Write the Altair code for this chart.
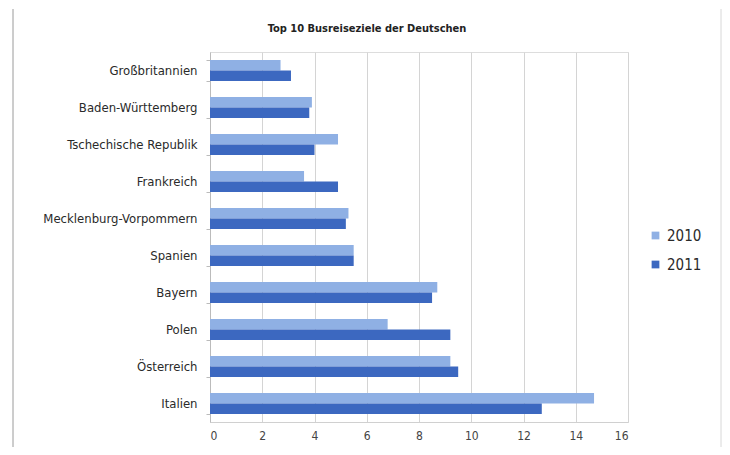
import altair as alt
import pandas as pd

categories = ["Großbritannien", "Baden-Württemberg", "Tschechische Republik", "Frankreich",
              "Mecklenburg-Vorpommern", "Spanien", "Bayern", "Polen", "Österreich", "Italien"]
values_2010 = [2.7, 3.9, 4.9, 3.6, 5.3, 5.5, 8.7, 6.8, 9.2, 14.7]
values_2011 = [3.1, 3.8, 4.0, 4.9, 5.2, 5.5, 8.5, 9.2, 9.5, 12.7]
years = ["2010", "2011"]
x_ticks = [0, 2, 4, 6, 8, 10, 12, 14, 16]

rows = []
for c, a, b in zip(categories, values_2010, values_2011):
    rows.append({"Ziel": c, "Jahr": years[0], "Wert": a})
    rows.append({"Ziel": c, "Jahr": years[1], "Wert": b})
df = pd.DataFrame(rows)

FONT = "DejaVu Sans Condensed, Liberation Sans Narrow, sans-serif"

bars = alt.Chart(df).mark_bar().encode(
    y=alt.Y("Ziel:N", sort=categories, title=None,
            scale=alt.Scale(paddingInner=0.43, paddingOuter=0.215),
            axis=alt.Axis(labelFont=FONT, labelFontSize=13, labelColor="#2a2a2a",
                          labelPadding=9, tickBand="extent", tickSize=4,
                          tickColor="#bbbbbb", domainColor="#bbbbbb", grid=False)),
    yOffset=alt.YOffset("Jahr:N", sort=years),
    x=alt.X("Wert:Q", title=None,
            scale=alt.Scale(domain=[0, 16], nice=False),
            axis=alt.Axis(values=x_ticks, labelFont=FONT, labelFontSize=12,
                          labelColor="#444444", ticks=False, labelPadding=8,
                          domainColor="#d0d0d0", gridColor="#d4d4d4")),
    color=alt.Color("Jahr:N", sort=years,
                    scale=alt.Scale(domain=years, range=["#8fb0e4", "#3c68c0"]),
                    legend=alt.Legend(title=None, orient="none", legendX=438, legendY=176,
                                      symbolType="square", symbolSize=60,
                                      symbolStrokeWidth=0,
                                      labelFont=FONT, labelFontSize=15,
                                      labelColor="#2a2a2a", rowPadding=13)),
)

frame_df = pd.DataFrame({"f": [0]})
left_rule = alt.Chart(frame_df).mark_rule(color="#9a9a9a", strokeWidth=1).encode(
    x=alt.value(-197), y=alt.value(-43), y2=alt.value(395))
right_rule = alt.Chart(frame_df).mark_rule(color="#d8d8d8", strokeWidth=1).encode(
    x=alt.value(511), y=alt.value(-43), y2=alt.value(395))

chart = alt.layer(bars, left_rule, right_rule).properties(
    width=418, height=370,
    padding={"left": 4, "top": 0, "right": 0, "bottom": 0},
    title=alt.TitleParams("Top 10 Busreiseziele der Deutschen", font=FONT,
                          fontSize=11, fontWeight="bold", color="#222222",
                          anchor="middle", frame="bounds", offset=-25),
).configure_view(stroke=None).configure(background="white")

chart.save("out.html", embed_options={"renderer": "svg", "actions": False})
